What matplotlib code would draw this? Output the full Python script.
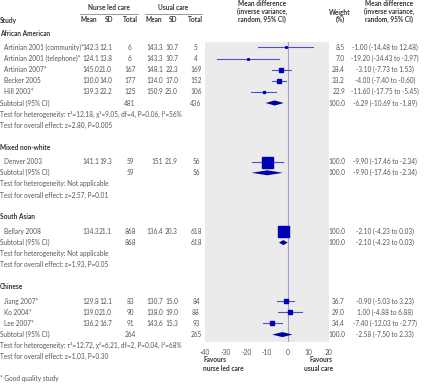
import matplotlib
matplotlib.use("Agg")
import matplotlib.pyplot as plt

plt.rcParams['font.family'] = ['Lato', 'DejaVu Sans']

# ---- data ----
group_names = ["African American", "Mixed non-white", "South Asian", "Chinese"]

study_names = ["Artinian 2001 (community)*", "Artinian 2001 (telephone)*", "Artinian 2007*",
               "Becker 2005", "Hill 2003*", "Denver 2003", "Bellary 2008",
               "Jiang 2007*", "Ko 2004*", "Lee 2007*"]
study_group = [0, 0, 0, 0, 0, 1, 2, 3, 3, 3]
nurse_mean = [142.3, 124.1, 145.0, 130.0, 139.3, 141.1, 134.3, 129.8, 139.0, 136.2]
nurse_sd   = [12.1, 13.8, 21.0, 14.0, 22.2, 19.3, 21.1, 12.1, 21.0, 16.7]
nurse_n    = [6, 6, 167, 177, 125, 59, 868, 83, 90, 91]
usual_mean = [143.3, 143.3, 148.1, 134.0, 150.9, 151, 136.4, 130.7, 138.0, 143.6]
usual_sd   = [10.7, 10.7, 22.3, 17.0, 25.0, 21.9, 20.3, 15.0, 19.0, 15.3]
usual_n    = [5, 4, 169, 152, 106, 56, 618, 84, 88, 93]
weight     = [8.5, 7.0, 28.4, 33.2, 22.9, 100.0, 100.0, 36.7, 29.0, 34.4]
md         = [-1.00, -19.20, -3.10, -4.00, -11.60, -9.90, -2.10, -0.90, 1.00, -7.40]
ci_lo      = [-14.48, -34.43, -7.73, -7.40, -17.75, -17.46, -4.23, -5.03, -4.88, -12.03]
ci_hi      = [12.48, -3.97, 1.53, -0.60, -5.45, -2.34, 0.03, 3.23, 6.88, -2.77]

sub_n1 = [481, 59, 868, 264]
sub_n2 = [436, 56, 618, 265]
sub_md = [-6.29, -9.90, -2.10, -2.58]
sub_lo = [-10.69, -17.46, -4.23, -7.50]
sub_hi = [-1.89, -2.34, 0.03, 2.33]
het_text = ["τ²=12.18, χ²=9.05, df=4, P=0.06, I²=56%", "Not applicable",
            "Not applicable", "τ²=12.72, χ²=6.21, df=2, P=0.04, I²=68%"]
overall_text = ["z=2.80, P=0.005", "z=2.57, P=0.01", "z=1.93, P=0.05", "z=1.03, P=0.30"]

xticks = [-40, -30, -20, -10, 0, 10, 20]

# ---- layout (pixels) ----
W, H = 424, 384
fs = 4.7
txt = '#555555'
bold = '#333333'
ci_col = '#5050c8'
sq_col = '#0000b4'
dia_col = '#0000a0'

fig = plt.figure(figsize=(W / 100, H / 100), dpi=100)
bg = fig.add_axes([0, 0, 1, 1])
bg.set_xlim(0, W)
bg.set_ylim(H, 0)
bg.axis('off')

px_l, px_r, px_t, px_b = 205, 329, 42, 342
ax = fig.add_axes([px_l / W, (H - px_b) / H, (px_r - px_l) / W, (px_b - px_t) / H])
ax.set_facecolor('#ebebeb')
ax.set_xlim(-40, 20)
ax.set_ylim(px_b, px_t)
for s in ax.spines.values():
    s.set_visible(False)
ax.set_yticks([])
ax.set_xticks(xticks)
ax.set_xticklabels([str(t) for t in xticks])
ax.tick_params(axis='x', length=0, pad=5, labelsize=fs + 0.2, labelcolor=txt)
ax.axvline(0, color='#9f9fdc', lw=0.8, zorder=1)

def t(x, y, s, ha='left', weight='normal', color=txt):
    bg.text(x, y, s, ha=ha, va='center', fontsize=fs, fontweight=weight, color=color)

# right edges for mean / SD, centres for totals
col_nm, col_nsd, col_nn = 99, 112, 130
col_um, col_usd, col_un = 163, 178, 196
col_w, col_md = 345, 385

# headers
t(109, 8, "Nurse led care", ha='center', weight='bold', color=bold)
t(173, 8, "Usual care", ha='center', weight='bold', color=bold)
bg.plot([80, 138], [13.5, 13.5], color='#888888', lw=0.6)
bg.plot([145, 202], [13.5, 13.5], color='#888888', lw=0.6)
t(0, 20, "Study", weight='bold', color=bold)
for x, s in zip([89, 109, 130, 154, 173, 195],
                ["Mean", "SD", "Total", "Mean", "SD", "Total"]):
    t(x, 20, s, ha='center', weight='bold', color=bold)
for i, s in enumerate(["Mean difference", "(inverse variance,", "random, 95% CI)"]):
    t(262, 4 + i * 7.6, s, ha='center', weight='bold', color=bold)
    t(389, 4 + i * 7.6, s, ha='center', weight='bold', color=bold)
t(340, 12, "Weight", ha='center', weight='bold', color=bold)
t(340, 19.5, "(%)", ha='center', weight='bold', color=bold)

def ci_str(m, l, h):
    return "%.2f (%.2f to %.2f)" % (m, l, h)

step = 11.1
y = 33
for g, gname in enumerate(group_names):
    t(0, y, gname, weight='bold', color=bold)
    y += 14.5
    for i in range(len(study_names)):
        if study_group[i] != g:
            continue
        t(4, y, study_names[i])
        t(col_nm, y, str(nurse_mean[i]), ha='right')
        t(col_nsd, y, str(nurse_sd[i]), ha='right')
        t(col_nn, y, str(nurse_n[i]), ha='center')
        t(col_um, y, str(usual_mean[i]), ha='right')
        t(col_usd, y, str(usual_sd[i]), ha='right')
        t(col_un, y, str(usual_n[i]), ha='center')
        t(col_w, y, "%.1f" % weight[i], ha='right')
        t(col_md, y, ci_str(md[i], ci_lo[i], ci_hi[i]), ha='center')
        ax.plot([ci_lo[i], ci_hi[i]], [y, y], color=ci_col, lw=0.8, zorder=2)
        side = max(1.6, 0.11 * weight[i])
        ax.plot(md[i], y, marker='s', ms=side * 0.72, color=sq_col, mec=sq_col, zorder=3)
        y += step
    t(0, y, "Subtotal (95% CI)")
    t(col_nn, y, str(sub_n1[g]), ha='center')
    t(col_un, y, str(sub_n2[g]), ha='center')
    t(col_w, y, "100.0", ha='right')
    t(col_md, y, ci_str(sub_md[g], sub_lo[g], sub_hi[g]), ha='center')
    ax.fill([sub_lo[g], sub_md[g], sub_hi[g], sub_md[g]], [y, y - 2.5, y, y + 2.5],
            color=dia_col, lw=0, zorder=3)
    y += step
    t(0, y, "Test for heterogeneity: " + het_text[g])
    y += step
    t(0, y, "Test for overall effect: " + overall_text[g])
    y += 22

t(0, 379, "* Good quality study")

bg.text(203, 364, "Favours\nnurse led care", ha='left', va='center', fontsize=fs,
        fontweight='bold', color=bold, linespacing=1.2)
bg.text(333, 364, "Favours\nusual care", ha='right', va='center', fontsize=fs,
        fontweight='bold', color=bold, linespacing=1.2)

fig.savefig("out.png", dpi=100)
